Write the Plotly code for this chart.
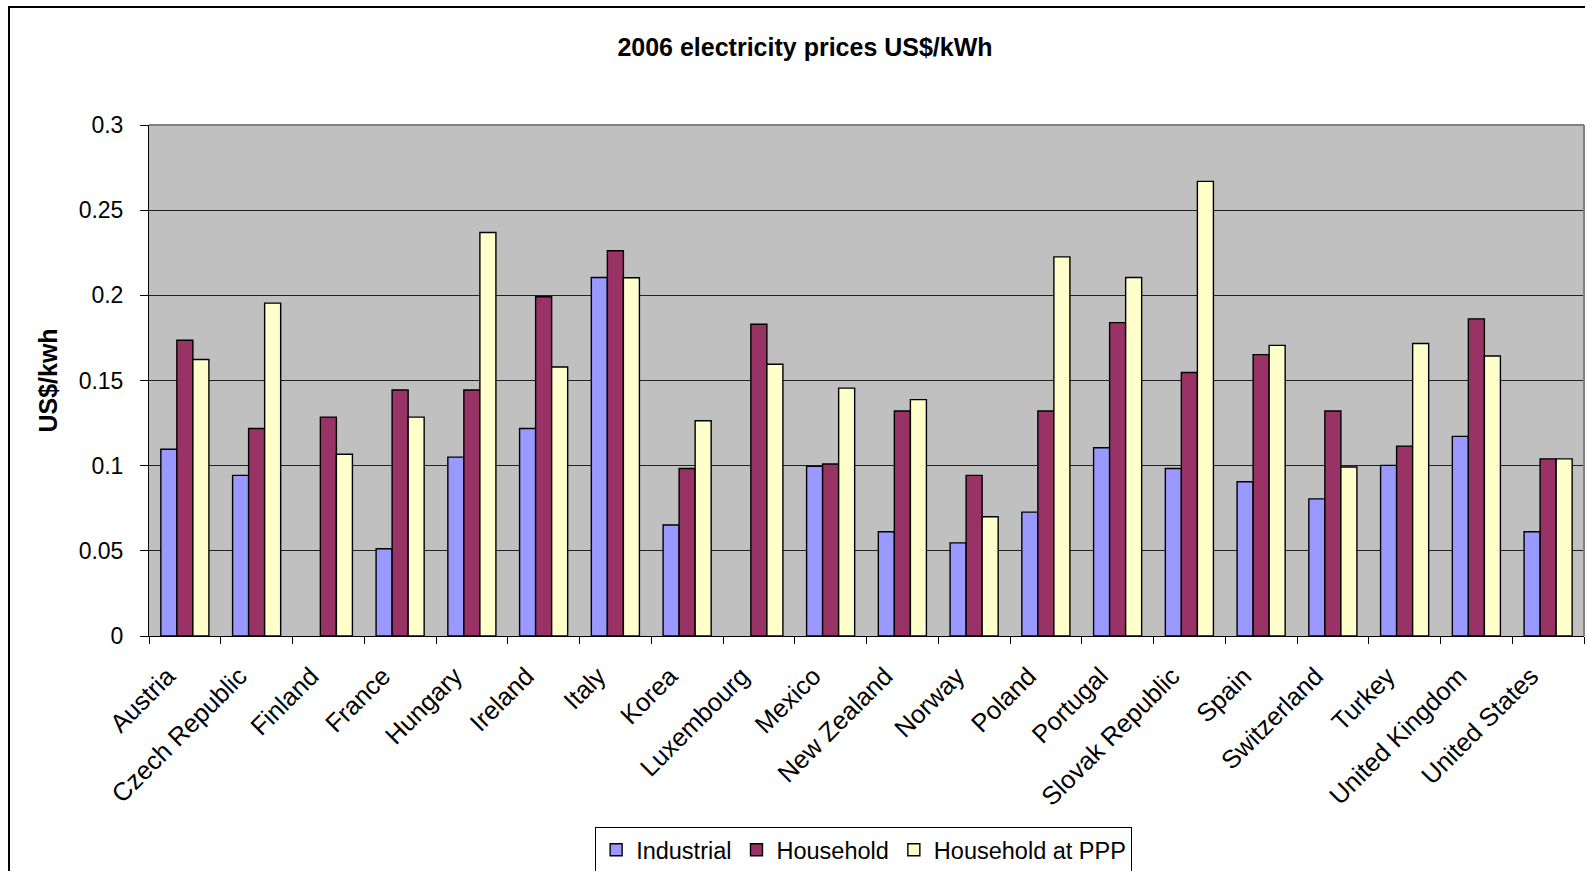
import plotly.graph_objects as go

countries = ["Austria", "Czech Republic", "Finland", "France", "Hungary", "Ireland",
             "Italy", "Korea", "Luxembourg", "Mexico", "New Zealand", "Norway",
             "Poland", "Portugal", "Slovak Republic", "Spain", "Switzerland",
             "Turkey", "United Kingdom", "United States"]

industrial = [0.1096, 0.0943, None, 0.0512, 0.1050, 0.1218, 0.2105, 0.0652, None, 0.0996,
              0.0612, 0.0547, 0.0727, 0.1105, 0.0983, 0.0906, 0.0805, 0.1002, 0.1172, 0.0612]
household = [0.1736, 0.1218, 0.1285, 0.1444, 0.1444, 0.1992, 0.2262, 0.0983, 0.1830, 0.1010,
             0.1321, 0.0943, 0.1321, 0.1840, 0.1547, 0.1652, 0.1321, 0.1115, 0.1862, 0.1040]
household_ppp = [0.1623, 0.1954, 0.1067, 0.1285, 0.2369, 0.1579, 0.2103, 0.1264, 0.1595, 0.1455,
                 0.1388, 0.0700, 0.2226, 0.2105, 0.2669, 0.1706, 0.0992, 0.1717, 0.1644, 0.1040]

y_ticks = [0, 0.05, 0.1, 0.15, 0.2, 0.25, 0.3]
y_tick_text = ["0", "0.05", "0.1", "0.15", "0.2", "0.25", "0.3"]

FONT = "Liberation Sans, Arial, sans-serif"

series = [
    ("Industrial", industrial, "#9999FF"),
    ("Household", household, "#993366"),
    ("Household at PPP", household_ppp, "#FFFFCC"),
]

fig = go.Figure()
for name, vals, color in series:
    fig.add_trace(go.Bar(
        x=countries, y=vals, name=name,
        marker=dict(color=color, line=dict(color="black", width=1.4)),
    ))

fig.update_layout(
    width=1585, height=871,
    margin=dict(l=149, r=1, t=125, b=235),
    paper_bgcolor="white",
    plot_bgcolor="#C0C0C0",
    barmode="group",
    bargap=0.33,
    bargroupgap=0,
    font=dict(family=FONT, color="black", size=22),
    title=dict(
        text="<b>2006 electricity prices US$/kWh</b>",
        x=805 / 1585, xref="container", xanchor="center",
        y=1 - 47 / 871, yref="container", yanchor="middle",
        font=dict(family=FONT, size=25, color="black"),
    ),
    showlegend=True,
    legend=dict(
        orientation="h",
        x=0.498, xanchor="center",
        y=1 - 827 / 871, yref="container", yanchor="top",
        bordercolor="black", borderwidth=1,
        bgcolor="white",
        font=dict(family=FONT, size=23.5),
        itemwidth=30,
    ),
    xaxis=dict(
        type="category",
        automargin=False,
        tickangle=-45,
        tickson="boundaries",
        ticks="outside", ticklen=7, tickcolor="black",
        showline=True, linecolor="black", linewidth=1,
        showgrid=False,
        ticklabelstandoff=14,
        ticklabelshift=-17,
        tickfont=dict(family=FONT, size=25.5),
    ),
    yaxis=dict(
        range=[0, 0.3],
        automargin=False,
        tickvals=y_ticks, ticktext=y_tick_text,
        ticks="outside", ticklen=8, tickcolor="black",
        showline=True, linecolor="black", linewidth=1,
        showgrid=True, gridcolor="#222222", gridwidth=1,
        zeroline=False,
        ticklabelstandoff=12,
        tickfont=dict(family=FONT, size=23),
        title=dict(text="<b>US$/kwh</b>", font=dict(family=FONT, size=25), standoff=13),
    ),
)

# Grey frame along the top and right edges of the plotting area
fig.add_shape(type="line", xref="paper", yref="paper", x0=0, x1=1, y0=1, y1=1,
              line=dict(color="#808080", width=2))
fig.add_shape(type="line", xref="paper", yref="paper", x0=1, x1=1, y0=0, y1=1,
              line=dict(color="#808080", width=2))

# Outer chart border
fig.add_shape(type="rect", xref="paper", yref="paper",
              x0=(9 - 149) / 1435, x1=1.05, y0=-0.6, y1=(636 - 7) / 511,
              line=dict(color="black", width=2), fillcolor="rgba(0,0,0,0)", layer="above")

fig.write_html("out.html")
